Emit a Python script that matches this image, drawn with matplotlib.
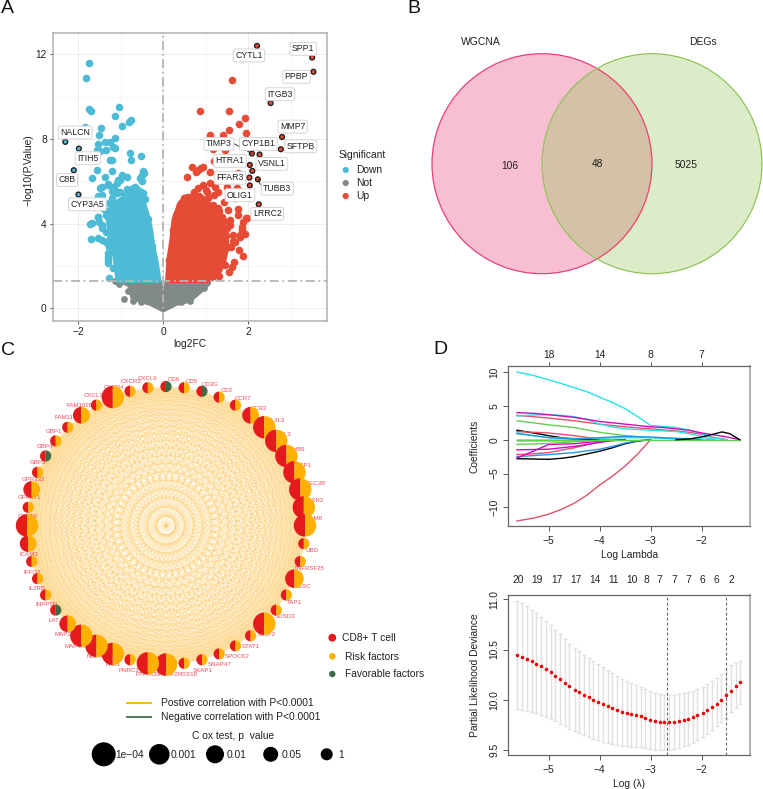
import numpy as np
import matplotlib
matplotlib.use('Agg')
import matplotlib.pyplot as plt
from matplotlib.collections import LineCollection
from matplotlib.patches import Circle, Wedge

plt.rcParams['font.family'] = ['Liberation Sans', 'DejaVu Sans']

W, H = 763, 789

# ---- volcano: individual genes
down_x = [-1.76, -1.82, -1.74, -1.70, -1.05, -1.15, -0.77, -0.80, -0.97, -1.85, -1.48, -1.51, -1.15, -1.37,
          -1.26, -1.55, -1.19, -1.14, -1.36, -1.57, -1.49, -0.79, -0.53, -0.75, -1.22, -1.57, -1.22, -1.37,
          -1.67, -0.98, -0.86, -0.47, -0.46, -0.49, -0.55, -0.51, -1.02, -1.10, -1.30, -1.45, -1.18, -1.14,
          -1.10, -1.22, -1.53, -1.45, -0.71, -0.59, -0.75, -0.47, -0.43, -1.53, -1.51, -1.73, -1.67, -1.45,
          -1.35, -1.70, -1.53, -1.45, -1.34, -1.27, -1.30, -1.30, -1.31, -1.27, -1.19, -1.22, -1.26, -1.07,
          -0.98, -1.30, -1.49, -1.54, -1.45, -1.35, -1.25, -1.20, -1.15, -1.30, -0.62, -0.90, -1.02, -0.85,
          -0.66, -0.52, -1.28, -1.40, -1.33, -1.24, -1.18, -0.36, -0.33, -0.27, -0.24, -0.20, -1.20]
down_y = [11.57, 10.88, 9.42, 9.32, 9.51, 9.06, 8.90, 8.82, 8.61, 8.55, 8.50, 8.17, 8.02, 7.84,
          7.83, 7.75, 7.62, 7.56, 7.48, 7.48, 7.45, 7.32, 7.21, 6.98, 7.00, 6.54, 6.46, 6.22,
          6.16, 6.30, 6.22, 6.46, 6.38, 6.30, 6.14, 6.02, 6.06, 5.94, 5.87, 5.75, 5.72, 5.59,
          5.43, 5.56, 5.28, 5.35, 5.66, 5.59, 5.51, 5.43, 5.16, 4.33, 4.09, 3.98, 4.02, 3.94,
          4.41, 3.26, 3.31, 3.23, 3.15, 2.91, 2.60, 2.28, 2.13, 1.42, 3.54, 3.86, 6.99, 6.06,
          6.25, 5.82, 5.68, 4.33, 3.79, 3.60, 3.30, 3.10, 4.70, 2.40, 5.60, 5.35, 5.50, 5.62,
          5.72, 5.50, 4.95, 4.70, 3.15, 2.70, 1.90, 4.20, 3.60, 2.95, 2.40, 1.80, 5.20]
up_x = [1.61, 0.86, 1.56, 1.92, 1.78, 1.54, 1.41, 1.09, 1.96, 1.18, 1.45, 1.20, 0.68, 0.89, 0.94, 0.77, 0.83,
        1.10, 0.56, 1.77, 1.10, 0.94, 0.83, 1.22, 1.30, 1.02, 1.42, 1.73, 1.69, 1.57, 1.53, 1.75, 1.77, 1.97,
        1.89, 1.85, 1.57, 1.38, 1.81, 1.65, 1.69, 1.46, 1.17, 1.30, 1.65, 1.53, 1.59, 1.78, 1.89, 1.67, 1.63,
        1.45, 1.56, 1.31, 1.86, 1.92, 1.82, 1.96, 1.50, 1.20, 1.05, 0.72, 0.60, 1.32, 1.42, 1.50, 1.58, 1.48,
        1.38, 1.28, 1.12, 1.00, 0.48, 0.40, 0.30, 0.22, 0.14, 1.38, 1.25]
up_y = [10.79, 9.34, 9.34, 8.99, 8.68, 8.41, 8.20, 8.19, 8.28, 7.51, 7.48, 6.96, 6.68, 6.63, 6.68, 6.44, 6.55,
        6.44, 6.20, 6.38, 5.92, 5.82, 5.67, 5.74, 5.51, 5.51, 5.04, 5.67, 5.20, 5.35, 4.64, 4.68, 4.41, 4.25,
        4.09, 3.85, 4.17, 4.33, 3.46, 3.46, 3.15, 3.55, 4.87, 4.72, 3.20, 2.88, 2.88, 2.76, 2.47, 2.17, 1.97,
        2.05, 1.73, 1.53, 3.70, 3.51, 3.35, 4.25, 5.73, 5.35, 5.20, 5.50, 5.10, 4.60, 4.10, 3.80, 3.95, 3.40,
        2.60, 2.30, 1.70, 5.60, 5.20, 4.90, 4.40, 3.70, 2.30, 3.15, 1.85]

# outlines of the dense parts of the cloud
down_cloud_x = [-1.07, -1.14, -1.26, -1.32, -1.14, -0.94, -0.71, -0.51, -0.39, -0.31, -0.24, -0.16, -0.10]
down_cloud_y = [1.31, 2.44, 3.54, 4.49, 4.96, 5.20, 5.43, 5.28, 4.49, 3.86, 2.91, 2.13, 1.31]
up_cloud_x = [0.10, 0.13, 0.20, 0.25, 0.39, 0.55, 0.86, 1.06, 1.26, 1.48, 1.50, 1.42, 1.26, 1.06]
up_cloud_y = [1.31, 2.28, 3.23, 4.17, 4.96, 5.28, 5.35, 4.96, 4.43, 3.62, 2.91, 2.13, 1.50, 1.31]
not_cloud_x = [-1.07, -0.82, -0.75, -0.55, -0.31, 0.0, 0.31, 0.63, 0.86, 1.10, 1.10, 0.06, 0.0, -0.06]
not_cloud_y = [1.29, 1.05, 0.47, 0.31, 0.16, -0.15, 0.16, 0.31, 0.70, 1.15, 1.29, 1.29, 0.72, 1.29]
not_x = [-1.14, -1.05, -0.93, -0.82, -0.72, -0.53, 0.63, 0.42, 0.95]
not_y = [1.27, 1.17, 0.45, 0.80, 0.33, 0.29, 0.33, 0.28, 0.95]

top_genes = ['CYTL1', 'SPP1', 'PPBP', 'ITGB3', 'MMP7', 'SFTPB', 'CYP1B1', 'VSNL1', 'HTRA1', 'TIMP3', 'FFAR3',
             'TUBB3', 'OLIG1', 'LRRC2', 'NALCN', 'ITIH5', 'C8B', 'CYP3A5']
top_x = [2.21, 3.51, 3.54, 2.53, 2.80, 2.77, 2.09, 2.27, 2.04, 2.10, 2.03, 2.23, 2.04, 2.25, -2.31, -1.99, -2.11, -2.00]
top_y = [12.39, 11.84, 11.17, 9.69, 8.09, 7.51, 7.31, 7.26, 6.77, 6.49, 6.17, 6.09, 5.80, 4.91, 7.86, 7.54, 6.52, 5.37]
top_label_x = [2.02, 3.30, 3.14, 2.75, 3.05, 3.24, 2.24, 2.56, 1.57, 1.31, 1.58, 2.69, 1.81, 2.45, -2.08, -1.78, -2.27, -1.79]
top_label_y = [11.94, 12.25, 10.93, 10.11, 8.58, 7.65, 7.76, 6.82, 6.96, 7.76, 6.16, 5.65, 5.34, 4.46, 8.30, 7.09, 6.06, 4.91]

# ---- venn
venn_counts = ['106', '48', '5025']
venn_sets = ['WGCNA', 'DEGs']

# ---- correlation network, clockwise from the top of the ring
node_p = [1, 1, 1, 1, 1, 0.05, 1e-4, 1e-4, 1e-4, 1e-4, 1e-4, 1e-4,
          1e-4, 1, 1, 0.01, 1, 1, 1e-4, 1, 1, 1, 1, 1,
          1e-4, 1e-4, 1, 1e-4, 1e-4, 1e-4, 0.05, 1, 1, 1, 1, 0.05,
          1e-4, 1, 0.05, 1, 1, 1, 1, 0.05, 1, 1e-4, 1, 1]
favorable_nodes = [0, 2, 31, 40]
gene_labels = ['CD6', 'CD5', 'CD3G', 'CD2', 'CCR7', 'CCR2', 'CCL3L3', 'CCL3', 'C9orf89', 'CASP1', 'APOBEC3B',
               'ANTXR2', 'ADAM8', 'UBD', 'TNFRSF25', 'TESC', 'TAP1', 'SUSD3', 'SULF2', 'STAT1', 'SPOCK2', 'SNAP47',
               'SKAP1', 'RGS18', 'RASSF2', 'PTPRC', 'PNRC1', 'PAK1', 'NCF4', 'MAP4K1', 'MAP3', 'LAT', 'INPP5D',
               'IL2RB', 'IFFO2', 'ICAM3', 'GPR56', 'GPR171', 'GPR132', 'GBP5', 'GBP4', 'GBP1', 'FAM117B', 'FAM102B',
               'CXCL10', 'CXCR4', 'CXCR3', 'CXCL9']
label_px = [(174, 379), (192, 381), (210, 384), (227, 390), (243, 398), (259, 408), (274, 420), (284, 434), (295, 449),
            (302, 465), (310, 483), (312, 500), (313, 519), (312, 551), (309, 569), (303, 586), (294, 602), (285, 617),
            (266, 634), (251, 646), (237, 656), (220, 664), (203, 670), (187, 674), (166, 675), (146, 674), (129, 670),
            (113, 665), (95, 656), (77, 646), (63, 634), (54, 620), (47, 605), (37, 589), (32, 572), (29, 554),
            (28, 516), (30, 497), (33, 479), (38, 462), (45, 446), (54, 431), (68, 417), (80, 405), (95, 395),
            (114, 387), (131, 381), (148, 378)]
cox_levels = ['1e\u221204', '0.001', '0.01', '0.05', '1']
cox_values = [1e-4, 1e-3, 0.01, 0.05, 1]

# ---- lasso paths, each series stops once its coefficient has reached zero
path_lambda = [-5.62, -5.3, -5.0, -4.75, -4.5, -4.25, -4.0, -3.75, -3.5, -3.25, -3.0, -2.75, -2.5, -2.25, -2.0,
               -1.75, -1.5, -1.25]
path_coefs = [
    ('black', [0.0, 0.0, 0.0, 0.0, 0.0, 0.0]),
    ('black', [1.4, 1.0, 0.6, 0.3, 0.1, 0.05, 0.0]),
    ('black', [-2.8, -2.85, -2.9, -2.75, -2.5, -2.1, -1.7, -1.2, -0.6, -0.2, 0.0]),
    ('#DF536B', [-12.0, -11.6, -11.0, -10.3, -9.4, -8.2, -6.7, -5.4, -3.9, -2.1, 0.0]),
    ('#DF536B', [3.6, 3.4, 3.2, 3.0, 2.8, 2.55, 2.3, 2.1, 1.9, 1.75, 1.6, 1.45, 1.3, 1.1, 0.8, 0.3, 0.0]),
    ('#DF536B', [1.2, 1.1, 1.0, 0.8, 0.6, 0.35, 0.1, 0.0]),
    ('#DF536B', [-2.2, -2.1, -1.9, -1.55, -1.2, -0.75, -0.3, -0.1, 0.0]),
    ('#61D04F', [2.8, 2.5, 2.2, 2.0, 1.8, 1.45, 1.1, 0.85, 0.6, 0.45, 0.3, 0.2, 0.1, 0.05, 0.0]),
    ('#2297E6', [-2.5, -2.35, -2.2, -2.05, -1.9, -1.65, -1.4, -1.0, -0.5, -0.15, 0.0]),
    ('#28E2E5', [1.0, 0.6, 0.3, 0.25, 0.2, 0.2, 0.2, 0.25, 0.3, 0.3, 0.3, 0.25, 0.2, 0.15, 0.1, 0.0]),
    ('#2297E6', [0.9, 0.6, 0.3, 0.2, 0.1, 0.2, 0.3, 0.4, 0.5, 0.45, 0.4, 0.3, 0.2, 0.1, 0.0]),
    ('#CD0BBC', [-1.5, -1.45, -1.4, -1.2, -1.0, -0.7, -0.4, -0.15, 0.0]),
    ('#CD0BBC', [-2.7, -1.7, -0.7, -0.65, -0.6, -0.4, -0.2, -0.1, 0.0]),
    ('#28E2E5', [3.5, 3.65, 3.7, 3.6, 3.4, 3.0, 2.3, 1.9, 1.6, 1.5, 1.4, 1.3, 1.2, 0.9, 0.5, 0.0]),
    ('#28E2E5', [10.0, 9.5, 8.85, 8.3, 7.7, 7.1, 6.3, 5.5, 4.6, 3.4, 2.1, 1.95, 1.8, 1.45, 0.9, 0.2, 0.0]),
    ('#CD0BBC', [4.0, 3.9, 3.7, 3.5, 3.3, 3.0, 2.7, 2.5, 2.3, 2.1, 1.9, 1.8, 1.6, 1.4, 1.0, 0.7, 0.4, 0.0]),
    ('#61D04F', [-0.7, -0.62, -0.55, -0.42, -0.3, -0.2, -0.1, 0.0]),
    ('#61D04F', [0.0] * 18),
]
bump_lambda = [-2.5, -2.25, -2.0, -1.75, -1.6, -1.45, -1.25]
bump_coefs = [0.0, 0.1, 0.4, 0.85, 1.15, 0.9, 0.0]
path_top_ticks = [-5, -4, -3, -2]
path_top_labels = ['18', '14', '8', '7']

# ---- cross-validation curve
cv_lambda = [-5.61, -5.52, -5.42, -5.33, -5.24, -5.14, -5.05, -4.96, -4.87, -4.77, -4.68, -4.59,
             -4.49, -4.40, -4.31, -4.21, -4.12, -4.03, -3.94, -3.84, -3.75, -3.66, -3.56, -3.47,
             -3.38, -3.28, -3.19, -3.10, -3.01, -2.91, -2.82, -2.73, -2.63, -2.54, -2.45, -2.35,
             -2.26, -2.17, -2.08, -1.98, -1.89, -1.80, -1.70, -1.61, -1.52, -1.42, -1.33, -1.24]
cv_mean = [10.45, 10.43, 10.41, 10.39, 10.36, 10.335, 10.305, 10.275, 10.24, 10.205, 10.17, 10.135,
           10.10, 10.075, 10.05, 10.025, 10.0, 9.98, 9.96, 9.94, 9.915, 9.895, 9.875, 9.865,
           9.855, 9.845, 9.835, 9.82, 9.80, 9.785, 9.775, 9.775, 9.775, 9.78, 9.785, 9.795,
           9.805, 9.825, 9.845, 9.865, 9.895, 9.925, 9.96, 10.0, 10.045, 10.09, 10.135, 10.175]
cv_upper = [10.98, 10.96, 10.93, 10.89, 10.86, 10.82, 10.78, 10.74, 10.69, 10.65, 10.60, 10.56,
            10.52, 10.49, 10.45, 10.42, 10.39, 10.36, 10.33, 10.30, 10.27, 10.24, 10.21, 10.19,
            10.17, 10.15, 10.13, 10.11, 10.09, 10.07, 10.06, 10.05, 10.05, 10.05, 10.06, 10.07,
            10.08, 10.09, 10.11, 10.13, 10.16, 10.19, 10.22, 10.26, 10.31, 10.35, 10.37, 10.39]
cv_lower = [9.91, 9.90, 9.89, 9.88, 9.87, 9.85, 9.83, 9.81, 9.79, 9.76, 9.74, 9.71,
            9.69, 9.67, 9.65, 9.63, 9.61, 9.60, 9.58, 9.57, 9.56, 9.55, 9.54, 9.535,
            9.53, 9.53, 9.53, 9.52, 9.51, 9.50, 9.495, 9.495, 9.50, 9.51, 9.52, 9.535,
            9.55, 9.57, 9.60, 9.63, 9.66, 9.70, 9.74, 9.78, 9.82, 9.88, 9.92, 9.96]
cv_top_x = [-5.59, -5.22, -4.84, -4.47, -4.10, -3.73, -3.36, -3.09, -2.82, -2.54, -2.26, -1.98, -1.70, -1.42]
cv_top_labels = ['20', '19', '17', '17', '14', '11', '10', '8', '7', '7', '7', '6', '6', '2']
lambda_min = -2.68
lambda_1se = -1.52


def px_axes(fig, left, top, right, bottom):
    return fig.add_axes([left / W, 1 - bottom / H, (right - left) / W, (bottom - top) / H])


def draw_volcano(ax):
    blue, red, grey = '#4DBBD5', '#E64B35', '#828A88'
    ax.fill(not_cloud_x, not_cloud_y, color=grey, lw=1.5, joinstyle='round', zorder=2)
    ax.scatter(not_x, not_y, s=24, color=grey, lw=0, zorder=2)
    ax.fill(down_cloud_x, down_cloud_y, color=blue, lw=3.5, joinstyle='round', zorder=3)
    ax.scatter(down_x, down_y, s=30, color=blue, lw=0, zorder=3)
    ax.fill(up_cloud_x, up_cloud_y, color=red, lw=3.5, joinstyle='round', zorder=3)
    ax.scatter(up_x, up_y, s=30, color=red, lw=0, zorder=3)
    top_colors = [red if x > 0 else blue for x in top_x]
    ax.scatter(top_x, top_y, s=12, c=top_colors, edgecolors='#222222', linewidths=1.0, zorder=4)

    ax.axvline(0, color='#B5B5B5', lw=1.3, ls=(0, (5, 2, 1, 2)), zorder=5)
    ax.axhline(1.3, color='#B5B5B5', lw=1.3, ls=(0, (5, 2, 1, 2)), zorder=5)

    # connectors for the two labels pushed away from their points
    ax.plot([1.68, 2.09], [7.76, 7.31], color='#222222', lw=0.6, zorder=4)
    ax.plot([2.23, 2.29], [6.09, 5.85], color='#222222', lw=0.6, zorder=4)
    for name, lx, ly in zip(top_genes, top_label_x, top_label_y):
        ax.text(lx, ly, name, fontsize=6.3, ha='center', va='center', color='#222222', zorder=6,
                bbox=dict(boxstyle='round,pad=0.22,rounding_size=0.2', fc='white', ec='#D5D5D5', lw=0.7))

    ax.set_xlim(-2.6, 3.86)
    ax.set_ylim(-0.6, 13.0)
    ax.set_xticks([-2, 0, 2])
    ax.set_xticklabels(['\u22122', '0', '2'])
    ax.set_yticks([0, 4, 8, 12])
    ax.set_xticks([-1, 1, 3], minor=True)
    ax.set_yticks([2, 6, 10], minor=True)
    ax.grid(which='major', color='#EDEDED', lw=0.7)
    ax.grid(which='minor', color='#F3F3F3', lw=0.5)
    ax.set_axisbelow(True)
    ax.tick_params(which='minor', length=0)
    ax.tick_params(which='major', length=2.5, width=0.7, color='#555555', labelsize=7.4, pad=2,
                   labelcolor='#222222')
    for spine in ax.spines.values():
        spine.set_color('#B0B0B0')
        spine.set_linewidth(1.1)


def draw_venn(canvas):
    canvas.add_patch(Circle((542, 163.7), 110, fc='#F8BFD2', ec='none', zorder=1))
    canvas.add_patch(Circle((652, 163.7), 110, fc='#DCEBC8', ec='none', zorder=1))
    # lens shared by both sets
    clip = Circle((652, 163.7), 110, transform=canvas.transData)
    lens = Circle((542, 163.7), 110, fc='#D5C0A8', ec='none', zorder=2)
    canvas.add_patch(lens)
    lens.set_clip_path(clip)
    canvas.add_patch(Circle((542, 163.7), 110, fc='none', ec='#E8436F', lw=0.9, zorder=3))
    canvas.add_patch(Circle((652, 163.7), 110, fc='none', ec='#92C45A', lw=0.9, zorder=3))
    for label, x, y in zip(venn_counts, [509.5, 597.5, 686], [166, 163.7, 165]):
        canvas.text(x, y, label, fontsize=7.4, ha='center', va='center', color='#222222', zorder=4)
    for label, x in zip(venn_sets, [480.5, 702.5]):
        canvas.text(x, 42, label, fontsize=7.5, ha='center', va='center', color='#222222', zorder=4)


def draw_network(canvas):
    cx, cy, ring = 166, 525.5, 139
    angles = np.radians(np.arange(len(node_p)) * 360 / len(node_p))
    xs = cx + ring * np.sin(angles)
    ys = cy - ring * np.cos(angles)

    segments = []
    for i in range(len(xs)):
        for j in range(i + 1, len(xs)):
            segments.append([(xs[i], ys[i]), (xs[j], ys[j])])
    canvas.add_collection(LineCollection(segments, colors='#FDB92E', linewidths=0.3, alpha=0.32, zorder=1))

    for name, (lx, ly) in zip(gene_labels, label_px):
        canvas.text(lx, ly, name, fontsize=4.4, ha='center', va='center', color='#EE4B5C', zorder=2)

    radius = dict(zip(cox_values, [11.2, 10.2, 9.3, 8.4, 5.6]))
    for i, p in enumerate(node_p):
        r = radius[p]
        right = '#3E6B45' if i in favorable_nodes else '#FFB000'
        canvas.add_patch(Wedge((xs[i], ys[i]), r, 90, 270, fc='#E41A1C', ec='none', zorder=3))
        canvas.add_patch(Wedge((xs[i], ys[i]), r, 270, 450, fc=right, ec='none', zorder=3))

    # node legend
    for y, col, size, label, tx in [(637.7, '#E41A1C', 3.9, 'CD8+ T cell', 342),
                                    (656.3, '#FFB000', 3.3, 'Risk factors', 345),
                                    (674.0, '#3E6B45', 3.2, 'Favorable factors', 345)]:
        canvas.add_patch(Circle((332.3, y), size, fc=col, ec='none'))
        canvas.text(tx, y + 0.3, label, fontsize=7.4, va='center', color='#222222')

    # edge legend
    for y, col, label in [(702.7, '#FFB000', 'Postive correlation with P<0.0001'),
                          (717.3, '#3E6B45', 'Negative correlation with P<0.0001')]:
        canvas.plot([127, 151], [y, y], color=col, lw=1.3)
        canvas.text(161, y, label, fontsize=7.4, va='center', color='#222222')

    # node size legend
    canvas.text(233, 736, 'C ox test, p  value', fontsize=7.4, ha='center', va='center', color='#222222')
    sizes = [12, 10.3, 9, 7.5, 6]
    dot_x = [103.7, 159.3, 215, 270.7, 326.7]
    text_x = [115, 170.7, 226.7, 282, 338.3]
    for level, r, dx, tx in zip(cox_levels, sizes, dot_x, text_x):
        canvas.add_patch(Circle((dx, 754.3), r, fc='black', ec='none'))
        canvas.text(tx, 755, level, fontsize=7.4, va='center', color='#222222')


def style_base_axes(ax):
    ax.set_xlim(-5.79, -1.05)
    ax.set_xticks([-5, -4, -3, -2])
    ax.set_xticklabels(['\u22125', '\u22124', '\u22123', '\u22122'])
    ax.tick_params(axis='x', length=3.5, width=0.7, color='#555555', labelsize=7.4, pad=3.5, labelcolor='#222222')
    ax.tick_params(axis='y', length=3.5, width=0.7, color='#555555', labelsize=7.4, pad=3, labelcolor='#222222')
    for label in ax.get_yticklabels():
        label.set_rotation(90)
        label.set_va('center')
    for spine in ax.spines.values():
        spine.set_color('#666666')
        spine.set_linewidth(0.9)
    ax.spines['right'].set_color('#B5B5B5')
    ax.spines['right'].set_linewidth(1.5)


def draw_paths(ax):
    for col, coefs in path_coefs:
        ax.plot(path_lambda[:len(coefs)], coefs, color=col, lw=1.0)
    ax.plot(bump_lambda, bump_coefs, color='black', lw=1.0)
    ax.set_ylim(-12.75, 10.89)
    ax.set_yticks([-10, -5, 0, 5, 10])
    ax.set_yticklabels(['\u221210', '\u22125', '0', '5', '10'])
    style_base_axes(ax)
    ax.set_xlabel('Log Lambda', fontsize=7.4, labelpad=3, color='#222222')
    ax.set_ylabel('Coefficients', fontsize=7.4, labelpad=7, color='#222222')
    top = ax.secondary_xaxis('top')
    top.set_xticks(path_top_ticks)
    top.set_xticklabels(path_top_labels)
    top.tick_params(length=3, width=0.7, color='#555555', labelsize=7.4, pad=1.5, labelcolor='#222222')
    top.spines['top'].set_visible(False)


def draw_cv(ax):
    lam = np.array(cv_lambda)
    mean = np.array(cv_mean)
    ax.errorbar(lam, mean, yerr=[mean - np.array(cv_lower), np.array(cv_upper) - mean], fmt='none',
                ecolor='#E0E0E0', elinewidth=1.0, capsize=1.7, capthick=1.0, zorder=1)
    ax.scatter(lam, mean, s=6.5, color='#F00000', lw=0, zorder=3)
    ax.axvline(lambda_min, color='#666666', lw=0.8, ls=(0, (2.5, 2)), zorder=2)
    ax.axvline(lambda_1se, color='#666666', lw=0.8, ls=(0, (2.5, 2)), zorder=2)
    ax.set_ylim(9.447, 11.04)
    ax.set_yticks([9.5, 10.0, 10.5, 11.0])
    ax.set_yticklabels(['9.5', '10.0', '10.5', '11.0'])
    style_base_axes(ax)
    ax.set_xlabel('Log (\u03bb)', fontsize=7.4, labelpad=3, color='#222222')
    ax.set_ylabel('Partial Likelihood Deviance', fontsize=7.4, labelpad=7, color='#222222')
    for x, label in zip(cv_top_x, cv_top_labels):
        ax.text(x, 1.095, label, transform=ax.get_xaxis_transform(), fontsize=7.4, ha='center', va='center',
                color='#222222')


def main():
    fig = plt.figure(figsize=(W / 100, H / 100), dpi=100)

    canvas = fig.add_axes([0, 0, 1, 1])
    canvas.set_xlim(0, W)
    canvas.set_ylim(H, 0)
    canvas.axis('off')

    draw_venn(canvas)
    draw_network(canvas)

    # panel letters
    for letter, x, y in [('A', 1, 8), ('B', 407, 8), ('C', 1, 350), ('D', 433, 349)]:
        canvas.text(x, y, letter, fontsize=14, va='center', color='#111111')

    # volcano legend and axis titles
    canvas.text(339, 155, 'Significant', fontsize=7.4, va='center', color='#222222')
    for y, col, label in [(170, '#4DBBD5', 'Down'), (183, '#828A88', 'Not'), (196, '#E64B35', 'Up')]:
        canvas.add_patch(Circle((345.7, y), 3.1, fc=col, ec='none'))
        canvas.text(356.5, y, label, fontsize=7.4, va='center', color='#222222')
    canvas.text(190, 344, 'log2FC', fontsize=7.4, ha='center', va='center', color='#222222')
    canvas.text(28, 170, '\u2212log10(P.Value)', fontsize=7.4, rotation=90, ha='center', va='center', color='#222222')

    draw_volcano(px_axes(fig, 53, 33, 327, 321))
    draw_paths(px_axes(fig, 508.3, 366, 750, 526))
    draw_cv(px_axes(fig, 508.3, 595.3, 750, 755.3))

    fig.savefig('out.png', dpi=100, facecolor='white')


if __name__ == "__main__":
    main()
